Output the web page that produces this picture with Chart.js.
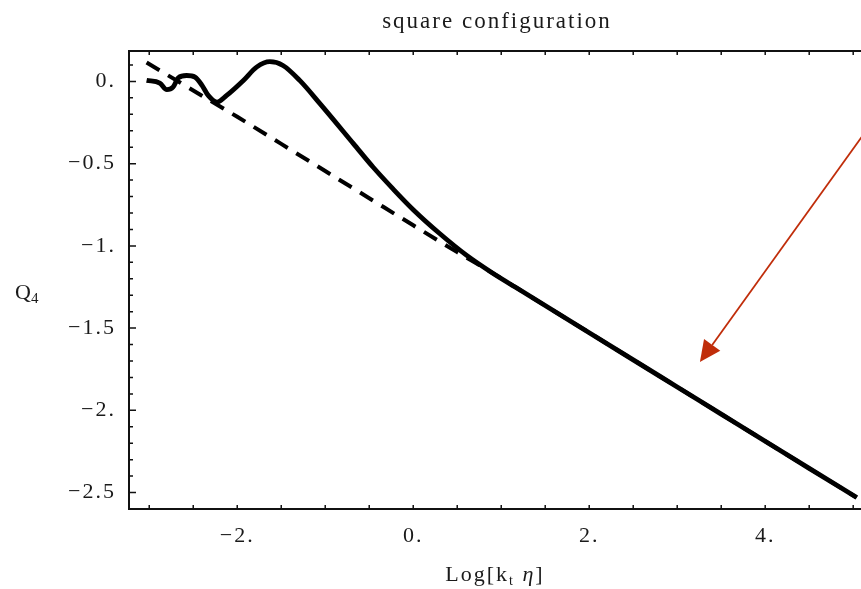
<!DOCTYPE html>
<html><head><meta charset="utf-8">
<script src="https://cdn.jsdelivr.net/npm/chart.js@4.4.1/dist/chart.umd.min.js"></script>
<style>
html,body{margin:0;padding:0;overflow:hidden;background:#fff;width:861px;height:589px}
#wrap{position:absolute;left:0;top:0;width:1002px;height:589px}
</style>
</head><body><div id="wrap"><canvas id="c" width="1002" height="589"></canvas></div>
<script>
// ---- data ----
const solidX = [-3.03, -2.88, -2.80, -2.73, -2.67, -2.575, -2.48, -2.40, -2.33, -2.23, -2.12, -1.93, -1.78, -1.63, -1.48, -1.29, -1.06, -0.68, -0.455, -0.227, 0.0, 0.3, 0.6, 0.9, 1.2, 1.6, 2.0, 2.5, 3.0, 3.5, 4.0, 4.5, 5.04];
const solidY = [0.006, -0.01, -0.05, -0.035, 0.022, 0.036, 0.026, -0.024, -0.085, -0.126, -0.085, 0.006, 0.087, 0.120, 0.097, 0.006, -0.135, -0.378, -0.522, -0.655, -0.78, -0.925, -1.055, -1.165, -1.264, -1.396, -1.528, -1.693, -1.858, -2.023, -2.188, -2.353, -2.53];
const dashX = [-3.03, -2.5, -2.0, -1.5, -1.0, -0.5, 0.0, 0.5, 0.9, 1.2, 1.6, 2.0, 2.5, 3.0, 3.5, 4.0, 4.5, 5.04];
const dashY = [0.115, -0.055, -0.215, -0.38, -0.545, -0.71, -0.875, -1.038, -1.165, -1.264, -1.396, -1.528, -1.693, -1.858, -2.023, -2.188, -2.353, -2.53];
const xTickValues = [-2, 0, 2, 4];
const xTickLabels = ['\u22122.', '0.', '2.', '4.'];
const yTickValues = [0, -0.5, -1, -1.5, -2, -2.5];
const yTickLabels = ['0.', '\u22120.5', '\u22121.', '\u22121.5', '\u22122.', '\u22122.5'];
const titleText = 'square configuration';
const arrowFrom = {x: 5.30, y: -0.186};
const arrowTo = {x: 3.258, y: -1.706};

const SERIF = "'Liberation Serif', 'Times New Roman', serif";
const TXT = '#1a1a1a';

const toPts = (xs, ys) => xs.map((v, i) => ({x: v, y: ys[i]}));

const deco = {
  id: 'deco',
  beforeDraw(chart) { chart.ctx.letterSpacing = '2px'; },
  afterDraw(chart) {
    const {ctx, chartArea: a, scales: {x, y}} = chart;
    ctx.save();
    // frame
    ctx.strokeStyle = '#111';
    ctx.lineWidth = 2;
    ctx.strokeRect(a.left, a.top, a.right - a.left, a.bottom - a.top);
    // inward ticks
    ctx.lineWidth = 1.5;
    ctx.beginPath();
    for (let i = -6; i <= 13; i++) {
      const px = x.getPixelForValue(i / 2);
      if (px < a.left + 2 || px > a.right - 2) continue;
      ctx.moveTo(px, a.bottom); ctx.lineTo(px, a.bottom - 4);
      ctx.moveTo(px, a.top); ctx.lineTo(px, a.top + 4);
    }
    for (let i = -25; i <= 1; i++) {
      const py = y.getPixelForValue(i / 10);
      const len = (i % 5 === 0) ? 7 : 4;
      ctx.moveTo(a.left, py); ctx.lineTo(a.left + len, py);
    }
    ctx.stroke();
    // axis titles
    ctx.fillStyle = TXT;
    ctx.textBaseline = 'alphabetic';
    ctx.textAlign = 'left';
    ctx.font = '22px ' + SERIF;
    ctx.fillText('Q', 15, 299);
    const qw = ctx.measureText('Q').width;
    ctx.font = '15px ' + SERIF;
    ctx.fillText('4', 15 + qw - 2, 303);
    // x title: Log[k_t η]
    const parts = [
      {t: 'Log[k', f: '22px ' + SERIF, dy: 0},
      {t: 't', f: '14px ' + SERIF, dy: 4},
      {t: ' ', f: '22px ' + SERIF, dy: 0},
      {t: '\u03b7', f: 'italic 22px ' + SERIF, dy: 0},
      {t: ']', f: '22px ' + SERIF, dy: 0}
    ];
    let tw = 0;
    parts.forEach(p => { ctx.font = p.f; p.w = ctx.measureText(p.t).width; tw += p.w; });
    let cx = 495 - tw / 2;
    const base = 581;
    parts.forEach(p => { ctx.font = p.f; ctx.fillText(p.t, cx, base + p.dy); cx += p.w; });
    // arrow annotation
    const x0 = x.getPixelForValue(arrowFrom.x), y0 = y.getPixelForValue(arrowFrom.y);
    const x1 = x.getPixelForValue(arrowTo.x), y1 = y.getPixelForValue(arrowTo.y);
    const ang = Math.atan2(y1 - y0, x1 - x0);
    const hl = 21, hw = 10;
    const bx = x1 - hl * Math.cos(ang), by = y1 - hl * Math.sin(ang);
    ctx.strokeStyle = 'rgb(192,45,10)';
    ctx.fillStyle = 'rgb(192,45,10)';
    ctx.lineWidth = 1.8;
    ctx.beginPath(); ctx.moveTo(x0, y0); ctx.lineTo(bx, by); ctx.stroke();
    ctx.beginPath();
    ctx.moveTo(x1, y1);
    ctx.lineTo(bx + hw * Math.sin(ang), by - hw * Math.cos(ang));
    ctx.lineTo(bx - hw * Math.sin(ang), by + hw * Math.cos(ang));
    ctx.closePath(); ctx.fill();
    ctx.restore();
  }
};

new Chart(document.getElementById('c'), {
  type: 'scatter',
  data: {
    datasets: [
      {
        label: 'Q4',
        data: toPts(solidX, solidY),
        showLine: true,
        borderColor: '#000',
        borderWidth: 4.8,
        pointRadius: 0,
        cubicInterpolationMode: 'monotone',
        fill: false
      },
      {
        label: 'Q4 approx',
        data: toPts(dashX, dashY),
        showLine: true,
        borderColor: '#000',
        borderWidth: 4,
        borderDash: [15, 10],
        pointRadius: 0,
        cubicInterpolationMode: 'monotone',
        fill: false
      }
    ]
  },
  options: {
    responsive: false,
    animation: false,
    devicePixelRatio: 1,
    layout: {padding: {left: 0, right: 8, top: 0, bottom: 0}},
    plugins: {
      legend: {display: false},
      tooltip: {enabled: false},
      title: {
        display: true,
        text: titleText,
        color: TXT,
        font: {family: SERIF, size: 23, weight: 'normal'},
        padding: {top: 8, bottom: 15.4}
      }
    },
    scales: {
      x: {
        type: 'linear',
        position: 'bottom',
        min: -3.23,
        max: 6.6,
        grid: {display: false, drawTicks: false},
        border: {display: false},
        afterBuildTicks: s => { s.ticks = xTickValues.map(v => ({value: v})); },
        afterFit: s => { s.height = 80; },
        ticks: {
          autoSkip: false, maxRotation: 0, padding: 14, color: TXT,
          font: {family: SERIF, size: 22},
          callback: v => { const i = xTickValues.indexOf(v); return i >= 0 ? xTickLabels[i] : ''; }
        }
      },
      y: {
        type: 'linear',
        min: -2.6,
        max: 0.185,
        grid: {display: false, drawTicks: false},
        border: {display: false},
        afterBuildTicks: s => { s.ticks = yTickValues.map(v => ({value: v})); },
        afterFit: s => { s.width = 129; },
        ticks: {
          autoSkip: false, padding: 13, color: TXT,
          font: {family: SERIF, size: 22},
          callback: v => { const i = yTickValues.findIndex(t => Math.abs(t - v) < 1e-9); return i >= 0 ? yTickLabels[i] : ''; }
        }
      }
    }
  },
  plugins: [deco]
});
</script>
</body></html>
